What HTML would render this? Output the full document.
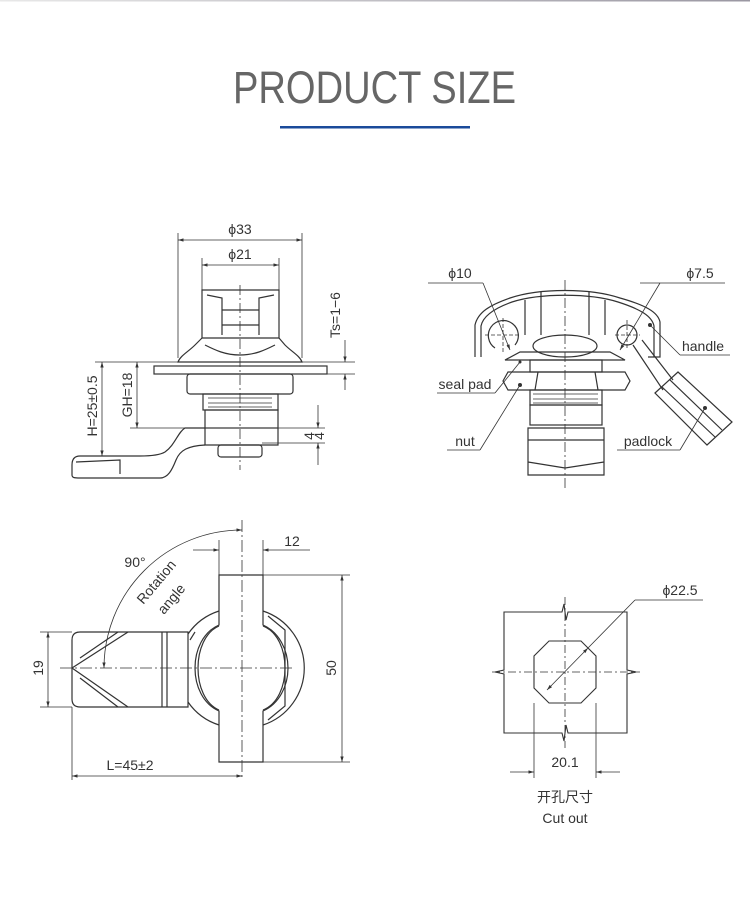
<!DOCTYPE html>
<html><head><meta charset="utf-8"><style>
html,body{margin:0;padding:0;background:#fff;}
body{width:750px;height:912px;overflow:hidden;position:relative;}
svg{position:absolute;left:0;top:0;}
text{font-family:"Liberation Sans","Noto Sans CJK SC",sans-serif;fill:#333;}
</style></head><body>
<svg width="750" height="912" viewBox="0 0 750 912" xmlns="http://www.w3.org/2000/svg">
<defs>
<linearGradient id="tg" x1="0" x2="1"><stop offset="0" stop-color="#e8e8e8"/><stop offset="1" stop-color="#9a97a2"/></linearGradient>
<marker id="a" viewBox="0 0 10 10" refX="10" refY="5" markerWidth="7" markerHeight="7" orient="auto-start-reverse"><path d="M0,2 L10,5 L0,8 z" fill="#333"/></marker>
</defs>
<rect x="0" y="0" width="750" height="1.5" fill="url(#tg)"/>
<text x="233" y="103" font-size="45" textLength="283" lengthAdjust="spacingAndGlyphs" style="fill:#666">PRODUCT SIZE</text>
<rect x="280" y="126" width="190" height="2.5" fill="#1a4a9a"/>

<g fill="none" stroke="#333" stroke-width="0.8">
<!-- ===== Drawing 1 ===== -->
<line x1="178" y1="233" x2="178" y2="358"/><line x1="302" y1="233" x2="302" y2="358"/>
<line x1="178" y1="240" x2="302" y2="240" marker-start="url(#a)" marker-end="url(#a)"/>
<line x1="202" y1="258" x2="202" y2="290"/><line x1="279" y1="258" x2="279" y2="290"/>
<line x1="202" y1="265" x2="279" y2="265" marker-start="url(#a)" marker-end="url(#a)"/>
<line x1="240" y1="285" x2="240" y2="470" stroke-dasharray="10 3 2 3"/>
<g stroke-width="1.2">
<path d="M202,290 L279,290 L279,338 L202,338 Z"/>
<path d="M207,295 L222,298 L222,335 M274,295 L259,298 L259,335"/>
<path d="M222,310 L259,310 M222,325 L259,325"/>
<path d="M202,338 L195,345 C188,352 180,356 178,362 L302,362 C300,356 292,352 285,345 L279,338"/>
<path d="M205,345 C215,350 225,355 240,355 C255,355 265,350 275,345"/>
<rect x="154" y="366" width="173" height="8"/>
<rect x="187" y="374" width="106" height="20" rx="3"/>
<rect x="203" y="394" width="75" height="16"/>
<path d="M208,398 L272,398 M208,403 L272,403 M208,407 L272,407" stroke-width="0.8"/>
<rect x="205" y="410" width="73" height="18"/>
<path d="M205,428 L205,445 L278,445 L278,428"/>
<rect x="218" y="445" width="44" height="12" rx="3"/>
<path d="M205,428 L185,428 C178,432 175,445 165,452 C160,455 150,456 140,456 L80,456 C74,456 72,460 72,465 L72,475 C72,478 75,478 80,478 L160,478 C168,478 172,470 176,460 C180,450 188,446 205,445"/>
<path d="M76,462 L120,460 L120,474"/>
</g>
<line x1="95" y1="362" x2="178" y2="362"/><line x1="130" y1="428" x2="205" y2="428"/>
<line x1="102" y1="362" x2="102" y2="456" marker-start="url(#a)" marker-end="url(#a)"/>
<line x1="137" y1="362" x2="137" y2="428" marker-start="url(#a)" marker-end="url(#a)"/>
<line x1="302" y1="362" x2="355" y2="362"/><line x1="327" y1="374" x2="355" y2="374"/>
<line x1="345" y1="340" x2="345" y2="362" marker-end="url(#a)"/><line x1="345" y1="390" x2="345" y2="374" marker-end="url(#a)"/>
<line x1="278" y1="428" x2="325" y2="428"/><line x1="262" y1="443" x2="325" y2="443"/>
<line x1="318" y1="405" x2="318" y2="428" marker-end="url(#a)"/><line x1="318" y1="465" x2="318" y2="443" marker-end="url(#a)"/>

<!-- ===== Drawing 2 ===== -->
<line x1="565" y1="280" x2="565" y2="490" stroke-dasharray="10 3 2 3"/>
<g stroke-width="1.2">
<path d="M475,357 L475,325 C478,312 490,305 510,298 C540,288 590,288 620,298 C645,305 658,312 660,322 L660,357 L648,357"/>
<path d="M481,357 L481,326 C483,316 495,308 512,302 C540,293 590,293 618,302 C640,309 652,316 654,326 L654,357"/>
<path d="M495,348 A15,15 0 1 1 515,345"/><circle cx="627" cy="335" r="10"/>
<path d="M525,300 L525,335 M541,292 L541,335 M589,292 L589,335 M605,300 L605,335"/>
<ellipse cx="565" cy="346" rx="32" ry="11"/>
<path d="M505,360 L520,352 L610,352 L625,360 Z"/>
<rect x="530" y="360" width="72" height="12"/>
<path d="M508,372 L625,372 L630,381 L625,390 L508,390 L503,381 Z M538,372 L535,390 M595,372 L598,390"/>
<rect x="530" y="390" width="72" height="15"/>
<path d="M533,394 L598,394 M533,399 L598,399 M533,403 L598,403" stroke-width="0.8"/>
<rect x="530" y="405" width="72" height="20"/>
<path d="M528,428 L604,428 L604,475 L528,475 Z M528,440 L604,440 M528,462 L565,468 L604,462"/>
<path d="M633,345 L663,390 M642,340 L673,380"/>
<path d="M655,393 L678,372 L732,422 L707,445 Z M662,387 L715,437 M670,380 L722,430"/>
</g>
<path d="M485,335 L521,335 M503,318 L503,352 M615,335 L640,335 M627,320 L627,350" stroke-dasharray="4 2"/>
<line x1="428" y1="283" x2="483" y2="283"/><line x1="483" y1="283" x2="510" y2="350" marker-end="url(#a)"/>
<line x1="640" y1="283" x2="725" y2="283"/><line x1="660" y1="283" x2="620" y2="350" marker-end="url(#a)"/>
<line x1="680" y1="355" x2="730" y2="355"/><line x1="680" y1="355" x2="650" y2="325"/>
<line x1="437" y1="393" x2="495" y2="393"/><line x1="495" y1="393" x2="520" y2="362"/>
<line x1="447" y1="450" x2="480" y2="450"/><line x1="480" y1="450" x2="520" y2="385"/>
<line x1="617" y1="450" x2="680" y2="450"/><line x1="680" y1="450" x2="705" y2="408"/>
<g fill="#333" stroke="none"><circle cx="650" cy="325" r="2"/><circle cx="520" cy="385" r="2"/><circle cx="705" cy="408" r="2"/><circle cx="520" cy="362" r="1.5"/></g>

<!-- ===== Drawing 3 ===== -->
<line x1="242" y1="520" x2="242" y2="780" stroke-dasharray="12 3 2 3"/>
<line x1="60" y1="668" x2="295" y2="668" stroke-dasharray="12 3 2 3"/>
<g stroke-width="1.2">
<path d="M188,634 A60,60 0 0 1 219,611 M263,611 A60,60 0 0 1 263,725 M219,725 A60,60 0 0 1 188,702"/>
<path d="M219,626 C205,632 198,650 198,668 C198,686 205,704 219,710 M263,626 C278,632 285,650 285,668 C285,686 278,704 263,710"/>
<path d="M219,575 L263,575 L263,625 C279,632 288,650 288,668 C288,686 279,704 263,711 L263,762 L219,762 L219,711 C203,704 195,686 195,668 C195,650 203,632 219,625 Z"/>
<path d="M268,616 L285,630 L285,706 L268,720 M190,640 L195,632"/>
<path d="M72,640 Q72,632 80,632 L188,632 L188,707 L80,707 Q72,707 72,699 Z"/>
<path d="M162,632 L162,707 M167,632 L167,707"/>
<path d="M72,668 L128,632 M72,668 L128,707 M80,658 L118,632 M80,678 L118,707"/>
</g>
<line x1="193" y1="550" x2="219" y2="550" marker-end="url(#a)"/><line x1="310" y1="550" x2="263" y2="550" marker-end="url(#a)"/>
<line x1="219" y1="540" x2="219" y2="575"/><line x1="263" y1="540" x2="263" y2="575"/>
<line x1="263" y1="575" x2="350" y2="575"/><line x1="263" y1="762" x2="350" y2="762"/>
<line x1="342" y1="575" x2="342" y2="762" marker-start="url(#a)" marker-end="url(#a)"/>
<line x1="40" y1="632" x2="72" y2="632"/><line x1="40" y1="707" x2="72" y2="707"/>
<line x1="48" y1="632" x2="48" y2="707" marker-start="url(#a)" marker-end="url(#a)"/>
<line x1="72" y1="707" x2="72" y2="780"/>
<line x1="72" y1="776" x2="242" y2="776" marker-start="url(#a)" marker-end="url(#a)"/>
<path d="M242,530 A138,138 0 0 0 104,668" marker-start="url(#a)" marker-end="url(#a)"/>

<!-- ===== Drawing 4 ===== -->
<g stroke-width="1.1">
<path d="M504,612 L562,612 L564,604 L566,620 L568,612 L627,612 L627,670 L636,672 L627,674 L627,733 L568,733 L566,725 L564,741 L562,733 L504,733 L504,674 L495,672 L504,670 Z"/>
<path d="M549,641 L581,641 L596,656 L596,688 L581,703 L549,703 L534,688 L534,656 Z"/>
</g>
<line x1="492" y1="672" x2="640" y2="672" stroke-dasharray="8 3 2 3"/>
<line x1="565" y1="597" x2="565" y2="748" stroke-dasharray="8 3 2 3"/>
<line x1="534" y1="703" x2="534" y2="778"/><line x1="596" y1="703" x2="596" y2="778"/>
<line x1="510" y1="772" x2="534" y2="772" marker-end="url(#a)"/><line x1="620" y1="772" x2="596" y2="772" marker-end="url(#a)"/>
<line x1="547" y1="690" x2="588" y2="648" marker-start="url(#a)" marker-end="url(#a)"/>
<line x1="588" y1="648" x2="635" y2="600"/><line x1="635" y1="600" x2="703" y2="600"/>
</g>

<g font-size="14">
<text x="240" y="234" text-anchor="middle">ϕ33</text>
<text x="240" y="259" text-anchor="middle">ϕ21</text>
<text transform="translate(97,406) rotate(-90)" text-anchor="middle">H=25±0.5</text>
<text transform="translate(132,395) rotate(-90)" text-anchor="middle">GH=18</text>
<text transform="translate(340,315) rotate(-90)" text-anchor="middle">Ts=1−6</text>
<text transform="translate(314,436) rotate(-90)" text-anchor="middle">4</text>
<text transform="translate(324,436) rotate(-90)" text-anchor="middle">4</text>
<text x="460" y="278" text-anchor="middle">ϕ10</text>
<text x="700" y="278" text-anchor="middle">ϕ7.5</text>
<text x="703" y="351" text-anchor="middle">handle</text>
<text x="465" y="389" text-anchor="middle">seal pad</text>
<text x="465" y="446" text-anchor="middle">nut</text>
<text x="648" y="446" text-anchor="middle">padlock</text>
<text x="135" y="567" text-anchor="middle">90°</text>
<text transform="translate(160,585) rotate(-50)" text-anchor="middle">Rotation</text>
<text transform="translate(175,602) rotate(-50)" text-anchor="middle">angle</text>
<text x="292" y="546" text-anchor="middle">12</text>
<text transform="translate(336,668) rotate(-90)" text-anchor="middle">50</text>
<text transform="translate(43,668) rotate(-90)" text-anchor="middle">19</text>
<text x="130" y="770" text-anchor="middle">L=45±2</text>
<text x="680" y="595" text-anchor="middle">ϕ22.5</text>
<text x="565" y="767" text-anchor="middle">20.1</text>
<text x="565" y="802" text-anchor="middle">开孔尺寸</text>
<text x="565" y="823" text-anchor="middle">Cut out</text>
</g>
</svg>
</body></html>
